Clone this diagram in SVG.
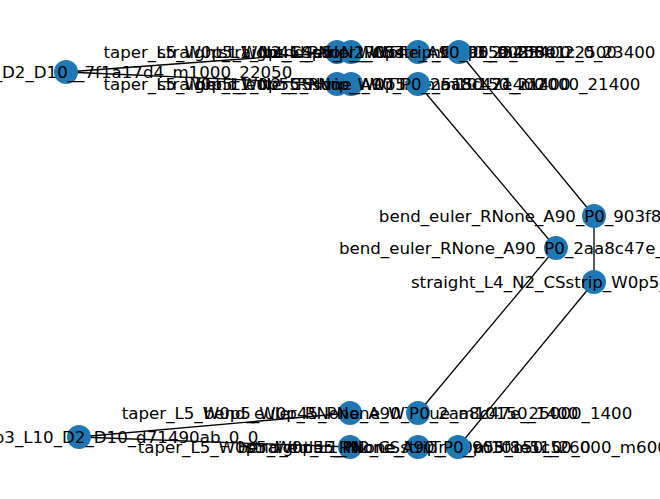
<svg xmlns="http://www.w3.org/2000/svg" width="660" height="499" viewBox="0 0 660 499">
<style>
.e{stroke:#000;stroke-width:1.3;fill:none}
.n circle{fill:#1f78b4}
.n text{font-family:"DejaVu Sans",sans-serif;font-size:16.67px;fill:#000;text-anchor:middle;dominant-baseline:central}
</style>
<rect width="660" height="499" fill="#fff"/>
<g id="edges">
<line class="e" x1="66" y1="72" x2="337" y2="52"/>
<line class="e" x1="66" y1="72" x2="337" y2="84"/>
<line class="e" x1="459" y1="52" x2="594" y2="216"/>
<line class="e" x1="418" y1="84" x2="556" y2="248"/>
<line class="e" x1="594" y1="216" x2="594" y2="282"/>
<line class="e" x1="556" y1="248" x2="418" y2="413"/>
<line class="e" x1="594" y1="282" x2="458" y2="447"/>
<line class="e" x1="79" y1="437" x2="350" y2="413"/>
<line class="e" x1="79" y1="437" x2="350" y2="447"/>
</g>
<g id="cpA" class="n"><circle cx="66" cy="72" r="12"/><text x="66" y="72">coupler_G0p2_L10_D2_D10__7f1a17d4_m1000_22050</text></g>
<g id="cpB" class="n"><circle cx="79" cy="437" r="12"/><text x="79" y="437">coupler_G0p3_L10_D2_D10_d71490ab_0_0</text></g>
<g id="t1" class="n"><circle cx="337" cy="52" r="12"/><text x="337" y="52">taper_L5_W0p5_W0p45_PNone_WTTrue_m10150_23400</text></g>
<g id="s1" class="n"><circle cx="351" cy="52" r="12"/><text x="351" y="52">straight_L1_N2_CSstrip_W0p45_m5150_23400</text></g>
<g id="s2" class="n"><circle cx="418" cy="52" r="12"/><text x="418" y="52">straight_L4p5_N2_CSstrip_W0p5_m2550_22500</text></g>
<g id="b1" class="n"><circle cx="459" cy="52" r="12"/><text x="459" y="52">bend_euler_RNone_A90_P0_903f8e1c_0_23400</text></g>
<g id="t2" class="n"><circle cx="337" cy="84" r="12"/><text x="337" y="84">taper_L5_W0p5_W0p55_PNone_WTTrue_m10150_21400</text></g>
<g id="s3" class="n"><circle cx="351" cy="84" r="12"/><text x="351" y="84">straight_L1_N2_CSstrip_W0p55_m5150_21400</text></g>
<g id="b2" class="n"><circle cx="418" cy="84" r="12"/><text x="418" y="84">bend_euler_RNone_A90_P0_2aa8c47e_m2000_21400</text></g>
<g id="b3" class="n"><circle cx="594" cy="216" r="12"/><text x="594" y="216">bend_euler_RNone_A90_P0_903f8e1c_m500_18400</text></g>
<g id="b4" class="n"><circle cx="556" cy="248" r="12"/><text x="556" y="248">bend_euler_RNone_A90_P0_2aa8c47e_m500_17900</text></g>
<g id="s4" class="n"><circle cx="594" cy="282" r="12"/><text x="594" y="282">straight_L4_N2_CSstrip_W0p5_m500_15900</text></g>
<g id="t3" class="n"><circle cx="350" cy="413" r="12"/><text x="350" y="413">taper_L5_W0p5_W0p45_PNone_WTTrue_m10150_1400</text></g>
<g id="b5" class="n"><circle cx="418" cy="413" r="12"/><text x="418" y="413">bend_euler_RNone_A90_P0_2aa8c47e_25000_1400</text></g>
<g id="t4" class="n"><circle cx="350" cy="447" r="12"/><text x="350" y="447">taper_L5_W0p5_W0p55_PNone_WTTrue_m10150_0</text></g>
<g id="s5" class="n"><circle cx="418" cy="447" r="12"/><text x="418" y="447">straight_L1_N2_CSstrip_W0p55_m5150_0</text></g>
<g id="b6" class="n"><circle cx="458" cy="447" r="12"/><text x="458" y="447">bend_euler_RNone_A90_P0_903f8e1c_26000_m6000</text></g>
</svg>
